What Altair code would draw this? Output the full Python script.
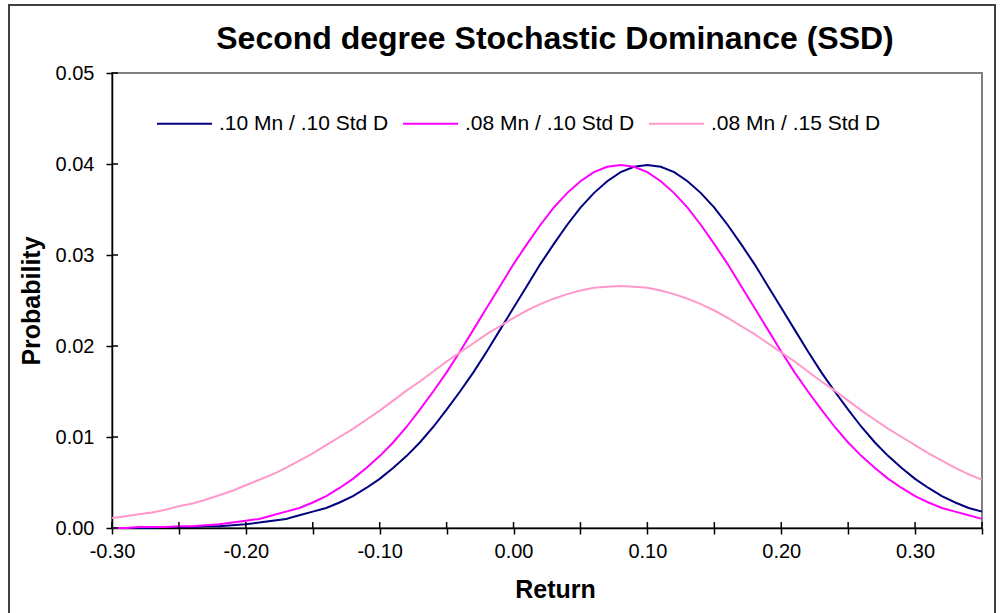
import altair as alt
import pandas as pd

# ---- data ----
returns = [-0.30, -0.29, -0.28, -0.27, -0.26, -0.25, -0.24, -0.23, -0.22, -0.21,
           -0.20, -0.19, -0.18, -0.17, -0.16, -0.15, -0.14, -0.13, -0.12, -0.11,
           -0.10, -0.09, -0.08, -0.07, -0.06, -0.05, -0.04, -0.03, -0.02, -0.01,
           0.00, 0.01, 0.02, 0.03, 0.04, 0.05, 0.06, 0.07, 0.08, 0.09,
           0.10, 0.11, 0.12, 0.13, 0.14, 0.15, 0.16, 0.17, 0.18, 0.19,
           0.20, 0.21, 0.22, 0.23, 0.24, 0.25, 0.26, 0.27, 0.28, 0.29,
           0.30, 0.31, 0.32, 0.33, 0.34, 0.35]

mn10_sd10 = [0.0000, 0.0000, 0.0000, 0.0000, 0.0001, 0.0001, 0.0001, 0.0002, 0.0002, 0.0003,
             0.0004, 0.0006, 0.0008, 0.0010, 0.0014, 0.0018, 0.0022, 0.0028, 0.0035, 0.0044,
             0.0054, 0.0066, 0.0079, 0.0094, 0.0111, 0.0130, 0.0150, 0.0171, 0.0194, 0.0218,
             0.0242, 0.0266, 0.0290, 0.0312, 0.0333, 0.0352, 0.0368, 0.0381, 0.0391, 0.0397,
             0.0399, 0.0397, 0.0391, 0.0381, 0.0368, 0.0352, 0.0333, 0.0312, 0.0290, 0.0266,
             0.0242, 0.0218, 0.0194, 0.0171, 0.0150, 0.0130, 0.0111, 0.0094, 0.0079, 0.0066,
             0.0054, 0.0044, 0.0035, 0.0028, 0.0022, 0.0018]

mn08_sd10 = [0.0000, 0.0000, 0.0001, 0.0001, 0.0001, 0.0002, 0.0002, 0.0003, 0.0004, 0.0006,
             0.0008, 0.0010, 0.0014, 0.0018, 0.0022, 0.0028, 0.0035, 0.0044, 0.0054, 0.0066,
             0.0079, 0.0094, 0.0111, 0.0130, 0.0150, 0.0171, 0.0194, 0.0218, 0.0242, 0.0266,
             0.0290, 0.0312, 0.0333, 0.0352, 0.0368, 0.0381, 0.0391, 0.0397, 0.0399, 0.0397,
             0.0391, 0.0381, 0.0368, 0.0352, 0.0333, 0.0312, 0.0290, 0.0266, 0.0242, 0.0218,
             0.0194, 0.0171, 0.0150, 0.0130, 0.0111, 0.0094, 0.0079, 0.0066, 0.0054, 0.0044,
             0.0035, 0.0028, 0.0022, 0.0018, 0.0014, 0.0010]

mn08_sd15 = [0.0011, 0.0013, 0.0015, 0.0017, 0.0020, 0.0024, 0.0027, 0.0031, 0.0036, 0.0041,
             0.0047, 0.0053, 0.0059, 0.0066, 0.0074, 0.0082, 0.0091, 0.0100, 0.0109, 0.0119,
             0.0129, 0.0140, 0.0151, 0.0161, 0.0172, 0.0183, 0.0193, 0.0203, 0.0213, 0.0222,
             0.0231, 0.0239, 0.0246, 0.0252, 0.0257, 0.0261, 0.0264, 0.0265, 0.0266, 0.0265,
             0.0264, 0.0261, 0.0257, 0.0252, 0.0246, 0.0239, 0.0231, 0.0222, 0.0213, 0.0203,
             0.0193, 0.0183, 0.0172, 0.0161, 0.0151, 0.0140, 0.0129, 0.0119, 0.0109, 0.0100,
             0.0091, 0.0082, 0.0074, 0.0066, 0.0059, 0.0053]

series_names = [".10 Mn / .10 Std D", ".08 Mn / .10 Std D", ".08 Mn / .15 Std D"]
series_colors = ["#000080", "#FF00FF", "#FF99CC"]

x_ticks = [-0.30, -0.25, -0.20, -0.15, -0.10, -0.05, 0.00, 0.05, 0.10, 0.15, 0.20, 0.25, 0.30, 0.35]
y_ticks = [0.00, 0.01, 0.02, 0.03, 0.04, 0.05]

chart_title = "Second degree Stochastic Dominance (SSD)"

# ---- build table ----
rows = []
for k, (name, vals) in enumerate(zip(series_names, [mn10_sd10, mn08_sd10, mn08_sd15])):
    for r, v in zip(returns, vals):
        rows.append({"ret": r, "prob": v, "series": name, "k": k})
df = pd.DataFrame(rows)

W, H = 870, 455
FONT = "Liberation Sans"

xscale = alt.Scale(domain=[-0.30, 0.35], nice=False, zero=False)
yscale = alt.Scale(domain=[0.0, 0.05], nice=False, zero=False)

xaxis = alt.Axis(values=x_ticks,
                 labelExpr="abs(round(datum.value*100)) % 10 == 0 ? "
                           "((datum.value < -0.001 ? '-' : '') + format(abs(datum.value), '.2f')) : ''",
                 title="Return", titleFontSize=25, titleFontWeight="bold", titlePadding=16,
                 titleX=443,
                 labelFontSize=20, labelPadding=7, labelFlush=False, labelOverlap=False,
                 tickSize=6, tickWidth=1.5, tickColor="#000000",
                 domainColor="#000000", domainWidth=1.5, grid=False,
                 labelColor="#000000", titleColor="#000000", labelFont=FONT, titleFont=FONT)
yaxis = alt.Axis(values=y_ticks, format=".2f",
                 title="Probability", titleFontSize=25, titleFontWeight="bold", titlePadding=11,
                 labelFontSize=20, labelPadding=12, labelOverlap=False,
                 tickSize=6, tickWidth=1.5, tickColor="#000000",
                 domainColor="#000000", domainWidth=1.5, grid=False,
                 labelColor="#000000", titleColor="#000000", labelFont=FONT, titleFont=FONT)

lines = alt.Chart(df).mark_line(strokeWidth=2).encode(
    x=alt.X("ret:Q", scale=xscale, axis=xaxis),
    y=alt.Y("prob:Q", scale=yscale, axis=yaxis),
    color=alt.Color("series:N",
                    scale=alt.Scale(domain=series_names, range=series_colors),
                    sort=series_names,
                    legend=alt.Legend(title=None, orient="none", legendX=44, legendY=22,
                                      direction="horizontal", columns=3,
                                      symbolType="stroke", symbolSize=3025, symbolStrokeWidth=2,
                                      labelFontSize=21, labelFont=FONT, labelColor="#000000",
                                      labelOffset=6, columnPadding=10, padding=0,
                                      labelLimit=400)),
    order=alt.Order("k:Q"),
)

# inner halves of the crossing tick marks
xin = alt.Chart(pd.DataFrame({"ret": x_ticks})).mark_rule(color="#000000", strokeWidth=1.5).encode(
    x=alt.X("ret:Q", scale=xscale, axis=xaxis),
    y=alt.value(H), y2=alt.value(H - 6),
)
yin = alt.Chart(pd.DataFrame({"prob": y_ticks})).mark_rule(color="#000000", strokeWidth=1.5).encode(
    y=alt.Y("prob:Q", scale=yscale, axis=yaxis),
    x=alt.value(0), x2=alt.value(6),
)

title_mark = alt.Chart(pd.DataFrame({"t": [chart_title]})).mark_text(
    font=FONT, fontSize=32, fontWeight="bold", color="#000000",
    align="center", baseline="alphabetic"
).encode(text="t:N", x=alt.value(443), y=alt.value(-24))

border = alt.Chart(pd.DataFrame({"a": [0]})).mark_rect(
    fillOpacity=0, stroke="#404040", strokeWidth=2
).encode(x=alt.value(-103), x2=alt.value(883), y=alt.value(-68), y2=alt.value(600))

chart = alt.layer(border, lines, xin, yin, title_mark).properties(
    width=W, height=H,
    autosize=alt.AutoSizeParams(type="none"),
    padding={"left": 112, "top": 73, "right": 18, "bottom": 85},
    background="#FFFFFF",
).configure_view(stroke="#808080", strokeWidth=2)

chart.save("out.html", embed_options={"renderer": "svg", "actions": False})
